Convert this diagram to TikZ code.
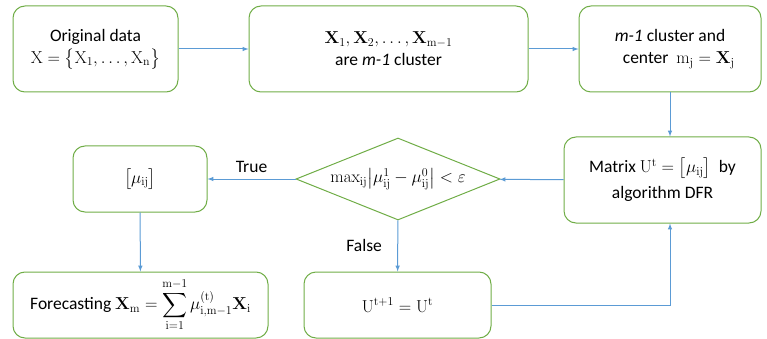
\documentclass[tikz,border=0pt]{standalone}
\usepackage{exscale}
\usepackage[no-math]{fontspec}
\setmainfont{Carlito}
\usetikzlibrary{shapes.geometric,arrows}
\definecolor{boxgreen}{RGB}{112,173,71}
\definecolor{lineblue}{RGB}{91,155,213}
\tikzset{%
  stepbox/.style = {shape=rectangle, rounded corners=12pt,%
                    draw=boxgreen, line width=1pt, align=center,%
                    inner sep=0pt},%
  test/.style    = {shape=diamond, aspect=2.5, draw=boxgreen, line width=1pt,%
                    inner sep=0pt, minimum width=204pt, minimum height=82pt},%
  flow/.style    = {draw=lineblue, line width=1pt, -latex}%
}

\begin{document}
\begin{tikzpicture}
[x=1pt,y=-1pt,every node/.style = {font=\fontsize{17.5}{22}\selectfont}]
	\useasboundingbox (0,0) rectangle (767,339);
	\node (orig) at (95.5,49) [stepbox,minimum width=165pt,minimum height=86pt]
		{Original data\\ $\mathrm{X}=\bigl\{\mathrm{X}_1,\dots,\mathrm{X}_\mathrm{n}\bigr\}$};
	\node (clus) at (388.5,49) [stepbox,minimum width=279pt,minimum height=86pt]
		{$\mathbf{X}_1, \mathbf{X}_2, \dots, \mathbf{X}_{\mathrm{m}-1}$\\ are \textit{m-1} cluster};
	\node (centr) at (670,49) [stepbox,minimum width=182pt,minimum height=86pt]
		{\textit{m-1} cluster and\\ \quad center\ \ $\mathrm{m_j}=\mathbf{X}_\mathrm{j}$};
	\node (matrix) at (662.5,180) [stepbox,minimum width=197pt,minimum height=86pt]
		{Matrix $\mathrm{U}^\mathrm{t}=\bigl[\mu_\mathrm{ij}\bigr]$\ \ by\\[4pt] algorithm DFR};
	\node (test) at (398,179) [test]
		{$\max\nolimits_\mathrm{ij}\bigl|\mu^1_\mathrm{ij}-\mu^0_\mathrm{ij}\bigr|<\varepsilon$};
	\node (mu) at (140,179) [stepbox,minimum width=134pt,minimum height=66pt]
		{$\bigl[\mu_\mathrm{ij}\bigr]$};
	\node (forecast) at (140.5,305) [stepbox,minimum width=255pt,minimum height=66pt]
		{Forecasting $\mathbf{X}_\mathrm{m}=\displaystyle\sum_{\mathrm{i}=1}^{\mathrm{m}-1}\mu^{(\mathrm{t})}_{\mathrm{i,m}-1}\mathbf{X}_\mathrm{i}$};
	\node (update) at (397.5,305) [stepbox,minimum width=187pt,minimum height=66pt]
		{$\mathrm{U}^{\mathrm{t}+1}=\mathrm{U}^\mathrm{t}$};
	\draw [flow] (orig) -- (clus);
	\draw [flow] (clus) -- (centr);
	\draw [flow] (centr.south) -- (centr.south |- matrix.north);
	\draw [flow] (matrix) -- (test);
	\draw [flow] (test) -- node [above=3pt] {True} (mu);
	\draw [flow] (mu) -- (forecast);
	\draw [flow] (test) -- node [left=12pt] {False} (update);
	\draw [flow] (update.east) -| (centr.south |- matrix.south);
\end{tikzpicture}
\end{document}
